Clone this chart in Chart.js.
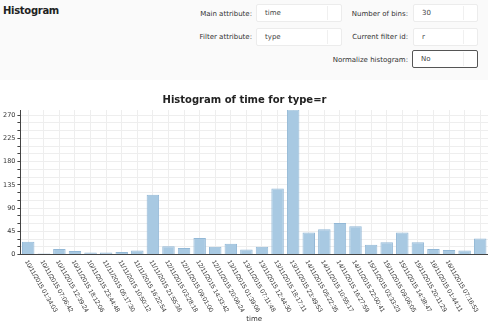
<!DOCTYPE html>
<html>
<head>
<meta charset="utf-8">
<script src="https://cdn.jsdelivr.net/npm/chart.js@4"></script>
<style>
    html, body { margin: 0; padding: 0; background: #ffffff; }
    body { width: 488px; height: 323px; overflow: hidden; position: relative; font-family: "DejaVu Sans", Verdana, sans-serif; }
    .panel { position: absolute; left: 0; top: 0; width: 488px; height: 80px; background: #fafafa; }
    .heading { position: absolute; left: 3px; top: 5px; font-size: 10px; font-weight: bold; color: #222; letter-spacing: -0.3px; }
    .lbl { position: absolute; font-size: 7px; color: #333; text-align: right; white-space: nowrap; }
    .box { position: absolute; height: 18px; background: #fff; border: 1px solid #ececec; border-radius: 2px; box-sizing: border-box; font-size: 7px; color: #444; line-height: 17px; padding-left: 8px; }
    .box .sep { position: absolute; right: 13px; top: 1px; bottom: 1px; width: 1px; background: #f0f0f0; }
    .box.dark { border: 1px solid #555; }
    #chart-wrap { position: absolute; left: 0; top: 86px; width: 488px; height: 237px; }
</style>
</head>
<body>
<div class="panel"></div>
<div class="heading">Histogram</div>

<div class="lbl" style="right:236px; top:10px;">Main attribute:</div>
<div class="box" style="left:256px; top:4px; width:86px;">time<div class="sep"></div></div>
<div class="lbl" style="right:236px; top:33px;">Filter attribute:</div>
<div class="box" style="left:256px; top:28px; width:86px;">type<div class="sep"></div></div>

<div class="lbl" style="right:80px; top:10px;">Number of bins:</div>
<div class="box" style="left:413px; top:4px; width:65px;">30<div class="sep"></div></div>
<div class="lbl" style="right:80px; top:33px;">Current filter id:</div>
<div class="box" style="left:413px; top:28px; width:65px;">r<div class="sep"></div></div>
<div class="lbl" style="right:80px; top:56px;">Normalize histogram:</div>
<div class="box dark" style="left:412px; top:50px; width:66px;">No<div class="sep"></div></div>

<div id="chart-wrap"><canvas id="hist"></canvas></div>

<script>
/* ---- data ---- */
var chartTitle = 'Histogram of time for type=r';
var xAxisTitle = 'time';

var binLabels = [
    '10/11/2015 01:34:03', '10/11/2015 07:06:42', '10/11/2015 12:39:24', '10/11/2015 18:12:06',
    '10/11/2015 23:44:48', '11/11/2015 05:17:30', '11/11/2015 10:50:12', '11/11/2015 16:22:54',
    '11/11/2015 21:55:36', '12/11/2015 03:28:18', '12/11/2015 09:01:00', '12/11/2015 14:33:42',
    '12/11/2015 20:06:24', '13/11/2015 01:39:06', '13/11/2015 07:11:48', '13/11/2015 12:44:30',
    '13/11/2015 18:17:11', '13/11/2015 23:49:53', '14/11/2015 05:22:35', '14/11/2015 10:55:17',
    '14/11/2015 16:27:59', '14/11/2015 22:00:41', '15/11/2015 03:33:23', '15/11/2015 09:06:05',
    '15/11/2015 14:38:47', '15/11/2015 20:11:29', '16/11/2015 01:44:11', '16/11/2015 07:16:53',
    '', ''
];

var binCounts = [25, 2, 11, 7, 4, 4, 5, 8, 116, 16, 13, 32, 15, 21, 10,
                 15, 128, 281, 43, 49, 61, 55, 19, 24, 43, 24, 11, 9, 8, 31];

// y ticks: minor every 15, labelled every 45
var yTickValues = [0, 15, 30, 45, 60, 75, 90, 105, 120, 135, 150, 165, 180, 195, 210, 225, 240, 255, 270];
var yTickLabels = ['0', '', '', '45', '', '', '90', '', '', '135', '', '', '180', '', '', '225', '', '', '270'];
var yMax = 280;

/* ---- rotated x labels, drawn from the category scale ---- */
var slantLabels = {
    id: 'slantLabels',
    afterDraw: function(chart) {
        var xs = chart.scales.x;
        var ctx = chart.ctx;
        ctx.save();
        ctx.font = '6.5px "Liberation Sans", sans-serif';
        ctx.fillStyle = '#333';
        ctx.textAlign = 'left';
        ctx.textBaseline = 'middle';
        binLabels.forEach(function(text, i) {
            if (!text) return;
            var x = xs.getPixelForValue(i);
            ctx.save();
            ctx.translate(x - 2, xs.top + 6);
            ctx.rotate(60 * Math.PI / 180);
            ctx.fillText(text, 0, 0);
            ctx.restore();
        });
        ctx.restore();
    }
};

var canvas = document.getElementById('hist');
new Chart(canvas, {
    type: 'bar',
    data: {
        labels: binLabels,
        datasets: [{
            data: binCounts,
            backgroundColor: '#a8c9e2',
            borderColor: '#93b8d6',
            borderWidth: 1,
            barPercentage: 0.8,
            categoryPercentage: 1.0
        }]
    },
    options: {
        responsive: true,
        maintainAspectRatio: false,
        animation: false,
        layout: { padding: { left: 1, right: 0, top: 0, bottom: 0 } },
        plugins: {
            legend: { display: false },
            tooltip: { enabled: false },
            title: {
                display: true,
                text: chartTitle,
                color: '#222',
                font: { family: '"DejaVu Sans", sans-serif', size: 10, weight: 'bold' },
                padding: { top: 8, bottom: 4 }
            }
        },
        scales: {
            x: {
                offset: true,
                grid: { offset: false, color: '#eeeeee', drawTicks: false },
                border: { display: true, color: '#444' },
                ticks: { display: false },
                title: {
                    display: true,
                    text: xAxisTitle,
                    color: '#333',
                    font: { family: '"DejaVu Sans", sans-serif', size: 7 },
                    padding: { top: 60, bottom: 0 }
                }
            },
            y: {
                min: 0,
                max: yMax,
                afterBuildTicks: function(scale) {
                    scale.ticks = yTickValues.map(function(v) { return { value: v }; });
                },
                grid: {
                    color: '#eeeeee',
                    tickColor: '#444',
                    tickLength: 3
                },
                border: { display: true, color: '#444' },
                ticks: {
                    autoSkip: false,
                    padding: 2,
                    color: '#333',
                    font: { family: '"DejaVu Sans", sans-serif', size: 6.5 },
                    callback: function(v, i) { return yTickLabels[i]; }
                }
            }
        }
    },
    plugins: [slantLabels]
});
</script>
</body>
</html>
